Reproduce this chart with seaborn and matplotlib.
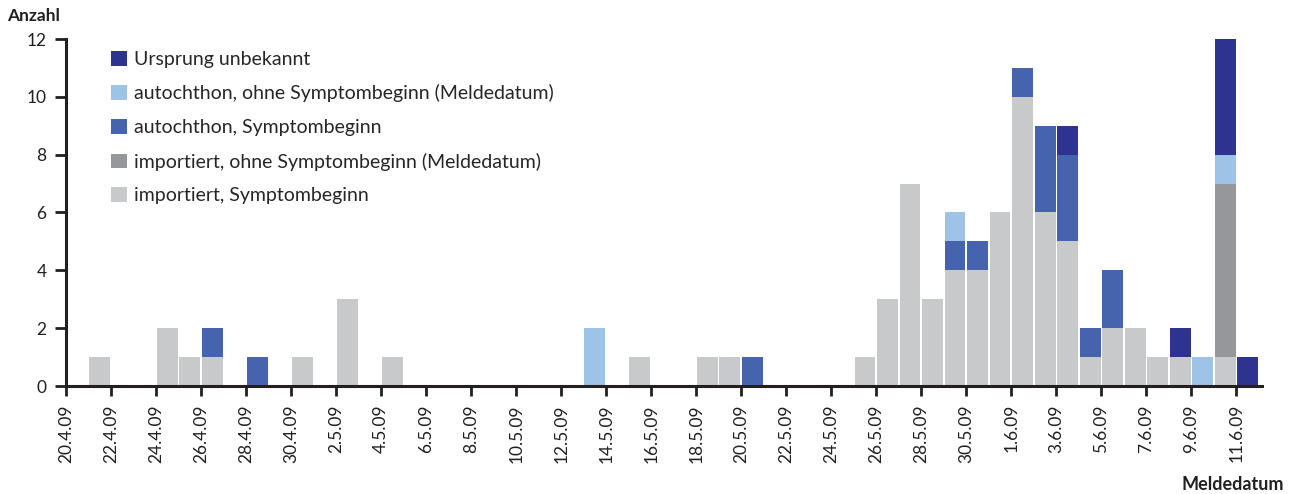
import seaborn as sns
import pandas as pd
import matplotlib.pyplot as plt
from matplotlib.patches import Patch

sns.set_style("white")
plt.rcParams['font.family'] = ['Lato', 'DejaVu Sans']

# daily counts, 20.4.09 .. 11.6.09
days = pd.date_range('2009-04-20', '2009-06-11', freq='D')
day_labels = [f"{d.day}.{d.month}.09" for d in days]

imp_sb = [0, 1, 0, 0, 2, 1, 1, 0, 0, 0,
          1, 0, 3, 0, 1, 0, 0, 0, 0, 0,
          0, 0, 0, 0, 0, 1, 0, 0, 1, 1,
          0, 0, 0, 0, 0, 1, 3, 7, 3, 4,
          4, 6, 10, 6, 5, 1, 2, 2, 1, 1,
          0, 1, 0]
imp_ohne = [0] * 51 + [6, 0]
aut_sb = [0, 0, 0, 0, 0, 0, 1, 0, 1, 0,
          0, 0, 0, 0, 0, 0, 0, 0, 0, 0,
          0, 0, 0, 0, 0, 0, 0, 0, 0, 0,
          1, 0, 0, 0, 0, 0, 0, 0, 0, 1,
          1, 0, 1, 3, 3, 1, 2, 0, 0, 0,
          0, 0, 0]
aut_ohne = [0, 0, 0, 0, 0, 0, 0, 0, 0, 0,
            0, 0, 0, 0, 0, 0, 0, 0, 0, 0,
            0, 0, 0, 2, 0, 0, 0, 0, 0, 0,
            0, 0, 0, 0, 0, 0, 0, 0, 0, 1,
            0, 0, 0, 0, 0, 0, 0, 0, 0, 0,
            1, 1, 0]
unbekannt = [0] * 44 + [1, 0, 0, 0, 0, 1, 0, 4, 1]

# stack order bottom -> top
series = [
    ("importiert, Symptombeginn", imp_sb, "#c8c9cb"),
    ("importiert, ohne Symptombeginn (Meldedatum)", imp_ohne, "#96979b"),
    ("autochthon, Symptombeginn", aut_sb, "#4664ae"),
    ("autochthon, ohne Symptombeginn (Meldedatum)", aut_ohne, "#9dc3e6"),
    ("Ursprung unbekannt", unbekannt, "#2e3390"),
]

df = pd.DataFrame({name: vals for name, vals, _ in series})
df["Tag"] = day_labels
cum = df[[s[0] for s in series]].cumsum(axis=1)

fig = plt.figure(figsize=(12.96, 4.94), dpi=100)
ax = fig.add_axes([66 / 1296, 108 / 494, 1196 / 1296, 347 / 494])

# draw cumulative totals from the top down so lower segments overlay
for name, _, color in reversed(series):
    sns.barplot(x=df["Tag"], y=cum[name], color=color, saturation=1,
                width=0.93, ax=ax, order=day_labels, linewidth=0)

ax.set_xlim(-0.5, 52.64)
ax.set_ylim(0, 12)
ax.set_yticks(range(0, 13, 2))
ax.set_xticks([i - 0.5 for i in range(0, 53, 2)])
ax.set_xticklabels(day_labels[::2], rotation=90, fontsize=12.5, color="#231f20")
ax.tick_params(axis='y', labelsize=12.5, colors="#231f20", length=8, width=2,
               direction='out', left=True, pad=6)
ax.tick_params(axis='x', length=7, width=2, direction='out', bottom=True,
               colors="#231f20", pad=6)
ax.set_xlabel("")
ax.set_ylabel("")
sns.despine(ax=ax)
for side in ("left", "bottom"):
    ax.spines[side].set_linewidth(2.2)
    ax.spines[side].set_color("#231f20")

handles = [Patch(facecolor=c, edgecolor='none', label=n) for n, _, c in reversed(series)]
ax.legend(handles=handles, loc='upper left', bbox_to_anchor=(0.028, 1.0),
          frameon=False, fontsize=14, handlelength=0.8, handleheight=0.8,
          handletextpad=0.35, labelspacing=0.85, borderaxespad=0.2)

fig.text(7 / 1296, 1 - 16 / 494, "Anzahl", fontsize=12.5, fontweight='bold',
         color="#231f20", va='center', ha='left')
fig.text(1284 / 1296, 1 - 484 / 494, "Meldedatum", fontsize=13, fontweight='bold',
         color="#231f20", va='center', ha='right')

fig.savefig("out.png", dpi=100)
